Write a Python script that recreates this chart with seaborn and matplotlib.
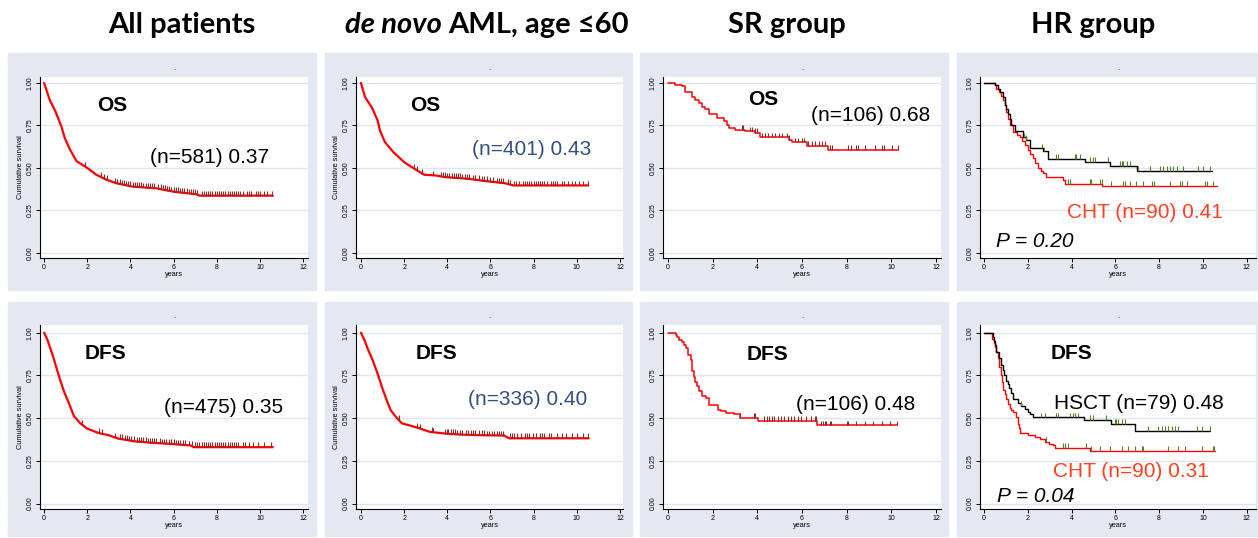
import matplotlib
matplotlib.use("Agg")
import matplotlib.pyplot as plt
from matplotlib.patches import Rectangle
import numpy as np
import pandas as pd
import seaborn as sns

W, H = 1258, 538

# ---- curves: years, cumulative survival ----
# large groups (drawn as a fine line)
all_os_t = [0, 0.26, 0.5, 0.8, 0.96, 1.19, 1.5, 2.0, 2.42, 2.9, 3.35, 4.1, 5.2, 6.0, 7.06, 7.2, 10.6]
all_os_s = [1.0, 0.90, 0.84, 0.745, 0.675, 0.61, 0.54, 0.50, 0.46, 0.43, 0.41, 0.39, 0.38, 0.36, 0.345, 0.337, 0.337]
all_os_cens = [1.88, 2.65, 2.78, 2.9, 3.3, 3.4, 3.5, 3.6, 3.7, 3.8, 3.9, 4.0, 4.1, 4.2, 4.3, 4.4, 4.5, 4.6,
               4.7, 4.8, 4.9, 5.0, 5.1, 5.3, 5.4, 5.5, 5.6, 5.7, 5.8, 5.9, 6.0, 6.1, 6.2, 6.3, 6.4, 6.5,
               6.6, 6.7, 6.8, 6.9, 7.0, 7.1, 7.3, 7.4, 7.5, 7.6, 7.7, 7.8, 7.9, 8.0, 8.1, 8.2, 8.3, 8.4,
               8.5, 8.6, 8.7, 8.8, 8.9, 9.0, 9.1, 9.2, 9.4, 9.5, 9.6, 9.8, 9.9, 10.0, 10.2, 10.35, 10.55]

denovo_os_t = [0, 0.19, 0.5, 0.77, 0.88, 1.11, 1.5, 2.0, 2.35, 2.93, 3.43, 3.9, 4.97, 5.75, 6.67, 7.06, 10.53]
denovo_os_s = [1.0, 0.916, 0.857, 0.78, 0.72, 0.652, 0.593, 0.534, 0.505, 0.46, 0.456, 0.446, 0.436, 0.423, 0.41, 0.397, 0.397]
denovo_os_cens = [2.45, 2.6, 2.85, 3.35, 3.7, 3.8, 3.9, 4.0, 4.1, 4.2, 4.3, 4.4, 4.5, 4.6, 4.7, 4.8, 4.9,
                  5.0, 5.2, 5.3, 5.45, 5.6, 5.7, 5.85, 6.0, 6.1, 6.3, 6.4, 6.5, 6.6, 6.8, 6.9, 7.1, 7.2,
                  7.3, 7.5, 7.6, 7.7, 7.8, 7.9, 8.0, 8.1, 8.2, 8.3, 8.4, 8.5, 8.6, 8.8, 8.9, 9.0, 9.1,
                  9.3, 9.4, 9.6, 9.8, 9.9, 10.1, 10.3, 10.5]

all_dfs_t = [0, 0.15, 0.31, 0.46, 0.69, 0.92, 1.15, 1.38, 1.68, 1.99, 2.52, 2.98, 3.44, 4.2, 4.97, 5.73, 6.8, 6.93, 10.6]
all_dfs_s = [1.0, 0.96, 0.90, 0.843, 0.744, 0.656, 0.587, 0.512, 0.469, 0.439, 0.413, 0.40, 0.38, 0.364, 0.356, 0.35, 0.34, 0.33, 0.33]
all_dfs_cens = [1.76, 2.55, 2.67, 3.29, 3.5, 3.6, 3.75, 3.85, 3.95, 4.05, 4.15, 4.3, 4.4, 4.5, 4.6, 4.7,
                4.8, 4.9, 5.0, 5.1, 5.2, 5.35, 5.45, 5.55, 5.65, 5.8, 5.9, 6.0, 6.1, 6.2, 6.3, 6.45,
                6.55, 6.7, 6.85, 7.0, 7.1, 7.2, 7.3, 7.4, 7.5, 7.6, 7.7, 7.8, 7.9, 8.0, 8.1, 8.2, 8.3,
                8.4, 8.5, 8.6, 8.7, 8.8, 8.9, 9.0, 9.2, 9.3, 9.5, 9.7, 9.9, 10.2, 10.5]

denovo_dfs_t = [0, 0.15, 0.3, 0.53, 0.76, 0.99, 1.22, 1.37, 1.68, 1.9, 2.2, 2.59, 3.2, 3.96, 4.57, 5.49, 6.63, 6.86, 10.55]
denovo_dfs_s = [1.0, 0.96, 0.91, 0.843, 0.764, 0.675, 0.596, 0.547, 0.498, 0.469, 0.459, 0.445, 0.419, 0.409, 0.404, 0.40, 0.398, 0.382, 0.382]
denovo_dfs_cens = [1.75, 2.6, 2.75, 3.28, 3.35, 3.9, 3.97, 4.05, 4.15, 4.25, 4.35, 4.45, 4.6, 4.7, 4.85,
                   4.95, 5.1, 5.2, 5.3, 5.45, 5.6, 5.7, 5.85, 5.95, 6.05, 6.15, 6.3, 6.4, 6.5, 6.6, 6.9,
                   7.0, 7.1, 7.25, 7.4, 7.6, 7.7, 7.8, 7.95, 8.1, 8.3, 8.4, 8.5, 8.7, 8.8, 9.1, 9.3, 9.5,
                   9.8, 10.0, 10.3, 10.5]

# small groups (drawn as steps)
sr_os_t = [0, 0.33, 0.63, 0.77, 1.07, 1.22, 1.37, 1.52, 1.67, 1.82, 2.19, 2.49, 2.65, 2.75, 3.0, 3.46,
           3.9, 4.13, 5.4, 5.54, 6.21, 7.15, 10.31]
sr_os_s = [1.0, 0.99, 0.98, 0.945, 0.92, 0.90, 0.88, 0.86, 0.845, 0.82, 0.795, 0.775, 0.755, 0.735,
           0.725, 0.715, 0.705, 0.68, 0.665, 0.65, 0.63, 0.605, 0.605]
sr_os_cens = [3.31, 3.38, 3.68, 3.76, 3.9, 3.98, 4.2, 4.35, 4.5, 4.65, 4.8, 4.95, 5.1, 5.32, 5.4, 5.69,
              5.84, 5.99, 6.07, 6.29, 6.44, 6.59, 6.74, 6.89, 7.03, 7.26, 7.33, 8.08, 8.2, 8.4, 8.52,
              8.82, 9.27, 9.57, 9.69, 10.02, 10.31]

sr_dfs_t = [0, 0.34, 0.42, 0.49, 0.64, 0.72, 0.79, 0.9, 1.02, 1.09, 1.17, 1.22, 1.29, 1.39, 1.54, 1.69,
            1.84, 2.22, 2.37, 2.59, 2.97, 3.24, 4.04, 6.68, 10.23]
sr_dfs_s = [1.0, 0.988, 0.975, 0.956, 0.946, 0.927, 0.908, 0.87, 0.84, 0.775, 0.74, 0.71, 0.69, 0.66,
            0.63, 0.615, 0.577, 0.55, 0.54, 0.53, 0.523, 0.501, 0.482, 0.457, 0.457]
sr_dfs_cens = [3.24, 3.84, 3.9, 4.31, 4.43, 4.54, 4.64, 4.76, 4.91, 5.06, 5.21, 5.36, 5.51, 5.66, 5.81,
               5.96, 6.19, 6.41, 6.56, 6.64, 6.86, 6.94, 7.01, 7.09, 7.24, 7.31, 8.0, 8.06, 8.43, 8.81,
               9.18, 9.56, 9.93, 10.23]

hr_os_hsct_t = [0, 0.49, 0.64, 0.72, 0.87, 0.95, 1.02, 1.1, 1.17, 1.25, 1.4, 1.78, 1.9, 2.09, 2.47,
                2.7, 2.93, 4.6, 5.75, 6.97, 10.4]
hr_os_hsct_s = [1.0, 0.985, 0.965, 0.946, 0.917, 0.87, 0.845, 0.82, 0.785, 0.75, 0.72, 0.68, 0.665,
                0.62, 0.615, 0.597, 0.554, 0.535, 0.514, 0.484, 0.484]
hr_os_hsct_cens = [1.81, 1.94, 2.67, 2.74, 3.31, 3.38, 4.15, 4.22, 4.37, 4.83, 4.98, 5.06, 5.67, 6.2,
                   6.28, 6.36, 6.51, 6.66, 7.04, 7.58, 8.03, 8.19, 8.34, 8.49, 8.64, 8.8, 9.1, 9.79,
                   10.02, 10.32]
hr_os_cht_t = [0, 0.5, 0.56, 0.7, 0.79, 0.87, 0.95, 1.02, 1.1, 1.2, 1.33, 1.5, 1.63, 1.75, 1.86, 2.0,
               2.12, 2.24, 2.35, 2.47, 2.6, 2.7, 2.85, 3.6, 3.69, 5.41, 10.62]
hr_os_cht_s = [1.0, 0.985, 0.965, 0.945, 0.926, 0.9, 0.868, 0.83, 0.79, 0.75, 0.713, 0.695, 0.684,
               0.66, 0.636, 0.607, 0.58, 0.558, 0.53, 0.50, 0.48, 0.47, 0.448, 0.428, 0.407, 0.393, 0.393]
hr_os_cht_cens = [3.84, 3.92, 4.83, 4.91, 5.29, 5.37, 5.82, 6.36, 6.43, 6.66, 6.94, 7.27, 7.68, 7.76,
                  8.49, 8.95, 9.02, 9.28, 10.09, 10.17, 10.47]

hr_dfs_hsct_t = [0, 0.41, 0.45, 0.49, 0.56, 0.69, 0.79, 0.85, 0.9, 1.02, 1.1, 1.16, 1.22, 1.33, 1.55,
                 1.71, 1.86, 2.0, 2.09, 2.24, 4.57, 5.82, 6.9, 10.32]
hr_dfs_hsct_s = [1.0, 0.975, 0.95, 0.927, 0.888, 0.85, 0.81, 0.78, 0.755, 0.715, 0.70, 0.675, 0.648,
                 0.61, 0.59, 0.571, 0.552, 0.535, 0.523, 0.504, 0.488, 0.465, 0.427, 0.427]
hr_dfs_hsct_cens = [1.71, 2.62, 2.77, 3.31, 3.38, 3.92, 4.07, 4.15, 4.3, 4.83, 4.98, 5.59, 5.98, 6.05,
                    6.13, 6.28, 6.43, 7.5, 7.96, 8.11, 8.26, 8.41, 8.57, 8.72, 8.87, 9.71, 9.94, 10.32]
hr_dfs_cht_t = [0, 0.38, 0.45, 0.49, 0.57, 0.64, 0.7, 0.76, 0.82, 0.87, 0.95, 1.02, 1.1, 1.17, 1.25,
                1.33, 1.48, 1.55, 1.6, 1.66, 2.01, 2.32, 2.55, 2.77, 2.95, 3.16, 3.23, 4.86, 10.55]
hr_dfs_cht_s = [1.0, 0.965, 0.94, 0.917, 0.885, 0.85, 0.8, 0.754, 0.71, 0.667, 0.64, 0.61, 0.585, 0.562,
                0.545, 0.533, 0.504, 0.465, 0.44, 0.413, 0.404, 0.392, 0.379, 0.36, 0.35, 0.34, 0.325,
                0.308, 0.308]
hr_dfs_cht_cens = [2.85, 3.61, 3.69, 3.84, 4.68, 4.91, 5.29, 5.75, 6.28, 6.59, 6.89, 7.2, 7.27, 8.41,
                   8.87, 9.18, 9.94, 10.47, 10.52]

col_titles = ["All patients", "de novo AML, age \u226460", "SR group", "HR group"]

# ---- layout (pixels) ----
BG = "#e4e8f1"
GRID = "#dfe4ee"
RED = "#ff0000"
MAROON = "#8c2b2b"
OLIVE = "#5a7f2a"
NAVY = "#34507f"
ORANGE = "#ff4020"

bg_cols = [(8, 316), (325, 632), (640, 948), (957, 1258)]
bg_rows = [(53, 290), (302, 536)]
ax_cols = [(40, 308), (356, 623), (663, 941), (980, 1256)]
ax_rows = [(77, 258), (325, 509)]
xlims = [(-0.19, 12.23), (-0.23, 12.14), (-0.22, 12.22), (-0.18, 12.42)]
ylims = [(-0.03, 1.035), (-0.032, 1.045)]

sns.set_theme(style="white")
plt.rcParams["font.family"] = ["Liberation Sans", "DejaVu Sans"]
plt.rcParams["text.color"] = "black"
plt.rcParams["axes.labelcolor"] = "black"
plt.rcParams["xtick.color"] = "black"
plt.rcParams["ytick.color"] = "black"

fig = plt.figure(figsize=(W / 100, H / 100), dpi=100)
fig.patch.set_facecolor("white")


def make_panel(col, row):
    bx0, bx1 = bg_cols[col]
    by0, by1 = bg_rows[row]
    fig.patches.append(Rectangle((bx0 / W, 1 - by1 / H), (bx1 - bx0) / W, (by1 - by0) / H,
                                 transform=fig.transFigure, color=BG, zorder=-10))
    x0, x1 = ax_cols[col]
    y0, y1 = ax_rows[row]
    ax = fig.add_axes([x0 / W, 1 - y1 / H, (x1 - x0) / W, (y1 - y0) / H])
    ax.set_zorder(5)
    ax.set_facecolor("white")
    return ax


def finish_panel(ax, col, row, ylabel):
    ax.set_xlim(*xlims[col])
    ax.set_ylim(*ylims[row])
    ax.set_xticks(np.arange(0, 13, 2))
    ax.set_yticks([0, 0.25, 0.5, 0.75, 1.0])
    ax.set_yticklabels(["0.00", "0.25", "0.50", "0.75", "1.00"], rotation=90, va="center")
    ax.tick_params(axis="both", labelsize=5, length=3, width=0.7, color="black",
                   direction="out", pad=1.5, left=True, bottom=True)
    ax.grid(axis="y", color=GRID, lw=1)
    ax.grid(axis="x", visible=False)
    for side in ["top", "right"]:
        ax.spines[side].set_visible(False)
    for side in ["left", "bottom"]:
        ax.spines[side].set_color("black")
        ax.spines[side].set_linewidth(0.8)
    ax.set_xlabel("years", fontsize=5.3, labelpad=0)
    ax.set_ylabel("Cumulative survival" if ylabel else "", fontsize=5.3, labelpad=2)
    ax.text(0.5, 1.025, ".", transform=ax.transAxes, ha="center", va="bottom", fontsize=6)


def draw_curve(ax, t, s, cens, color, cens_color, lw, steps):
    df = pd.DataFrame({"years": t, "surv": s})
    sns.lineplot(data=df, x="years", y="surv", ax=ax, color=color, lw=lw, estimator=None,
                 drawstyle="steps-post" if steps else "default", zorder=3)
    t = np.asarray(t)
    s = np.asarray(s)
    c = np.asarray(cens)
    if steps:
        cy = s[np.searchsorted(t, c, side="right") - 1]
    else:
        cy = np.interp(c, t, s)
    ax.vlines(c, cy, cy + 0.028, color=cens_color, lw=0.8, zorder=4)


big = dict(fontsize=15, fontweight="bold", ha="center", va="center")
lab = dict(fontsize=15, ha="center", va="center")

# row 0: OS
ax = make_panel(0, 0)
draw_curve(ax, all_os_t, all_os_s, all_os_cens, RED, MAROON, 1.6, False)
finish_panel(ax, 0, 0, True)
ax.text(3.15, 0.865, "OS", **big)
ax.text(7.65, 0.56, "(n=581) 0.37", color="black", **lab)

ax = make_panel(1, 0)
draw_curve(ax, denovo_os_t, denovo_os_s, denovo_os_cens, RED, MAROON, 1.6, False)
finish_panel(ax, 1, 0, True)
ax.text(2.97, 0.87, "OS", **big)
ax.text(7.92, 0.606, "(n=401) 0.43", color=NAVY, **lab)

ax = make_panel(2, 0)
draw_curve(ax, sr_os_t, sr_os_s, sr_os_cens, RED, MAROON, 1.1, True)
finish_panel(ax, 2, 0, False)
ax.text(4.25, 0.905, "OS", **big)
ax.text(9.09, 0.81, "(n=106) 0.68", color="black", **lab)

ax = make_panel(3, 0)
draw_curve(ax, hr_os_cht_t, hr_os_cht_s, hr_os_cht_cens, RED, OLIVE, 1.0, True)
draw_curve(ax, hr_os_hsct_t, hr_os_hsct_s, hr_os_hsct_cens, "black", OLIVE, 1.0, True)
finish_panel(ax, 3, 0, False)
ax.text(7.35, 0.24, "CHT (n=90) 0.41", color=ORANGE, **lab)
ax.text(0.55, 0.07, "P = 0.20", fontsize=15, style="italic", ha="left", va="center")

# row 1: DFS
ax = make_panel(0, 1)
draw_curve(ax, all_dfs_t, all_dfs_s, all_dfs_cens, RED, MAROON, 1.6, False)
finish_panel(ax, 0, 1, True)
ax.text(2.85, 0.88, "DFS", **big)
ax.text(8.34, 0.56, "(n=475) 0.35", color="black", **lab)

ax = make_panel(1, 1)
draw_curve(ax, denovo_dfs_t, denovo_dfs_s, denovo_dfs_cens, RED, MAROON, 1.6, False)
finish_panel(ax, 1, 1, True)
ax.text(3.52, 0.88, "DFS", **big)
ax.text(7.73, 0.61, "(n=336) 0.40", color=NAVY, **lab)

ax = make_panel(2, 1)
draw_curve(ax, sr_dfs_t, sr_dfs_s, sr_dfs_cens, RED, MAROON, 1.1, True)
finish_panel(ax, 2, 1, False)
ax.text(4.45, 0.87, "DFS", **big)
ax.text(8.4, 0.58, "(n=106) 0.48", color="black", **lab)

ax = make_panel(3, 1)
draw_curve(ax, hr_dfs_cht_t, hr_dfs_cht_s, hr_dfs_cht_cens, RED, OLIVE, 1.0, True)
draw_curve(ax, hr_dfs_hsct_t, hr_dfs_hsct_s, hr_dfs_hsct_cens, "black", OLIVE, 1.0, True)
finish_panel(ax, 3, 1, False)
ax.text(4.02, 0.88, "DFS", **big)
ax.text(7.07, 0.583, "HSCT (n=79) 0.48", color="black", **lab)
ax.text(6.72, 0.185, "CHT (n=90) 0.31", color=ORANGE, **lab)
ax.text(0.6, 0.04, "P = 0.04", fontsize=15, style="italic", ha="left", va="center")

# column titles
tfont = dict(fontsize=21, fontweight="bold", va="center", color="black", family=["Lato", "DejaVu Sans"])
fig.text(182 / W, 1 - 25 / H, col_titles[0], ha="center", **tfont)
fig.text(442 / W, 1 - 25 / H, col_titles[1].split(" AML")[0], ha="right", style="italic", **tfont)
fig.text(448 / W, 1 - 25 / H, "AML" + col_titles[1].split(" AML")[1], ha="left", **tfont)
fig.text(787 / W, 1 - 25 / H, col_titles[2], ha="center", **tfont)
fig.text(1093 / W, 1 - 25 / H, col_titles[3], ha="center", **tfont)

fig.savefig("out.png", dpi=100, facecolor="white")
